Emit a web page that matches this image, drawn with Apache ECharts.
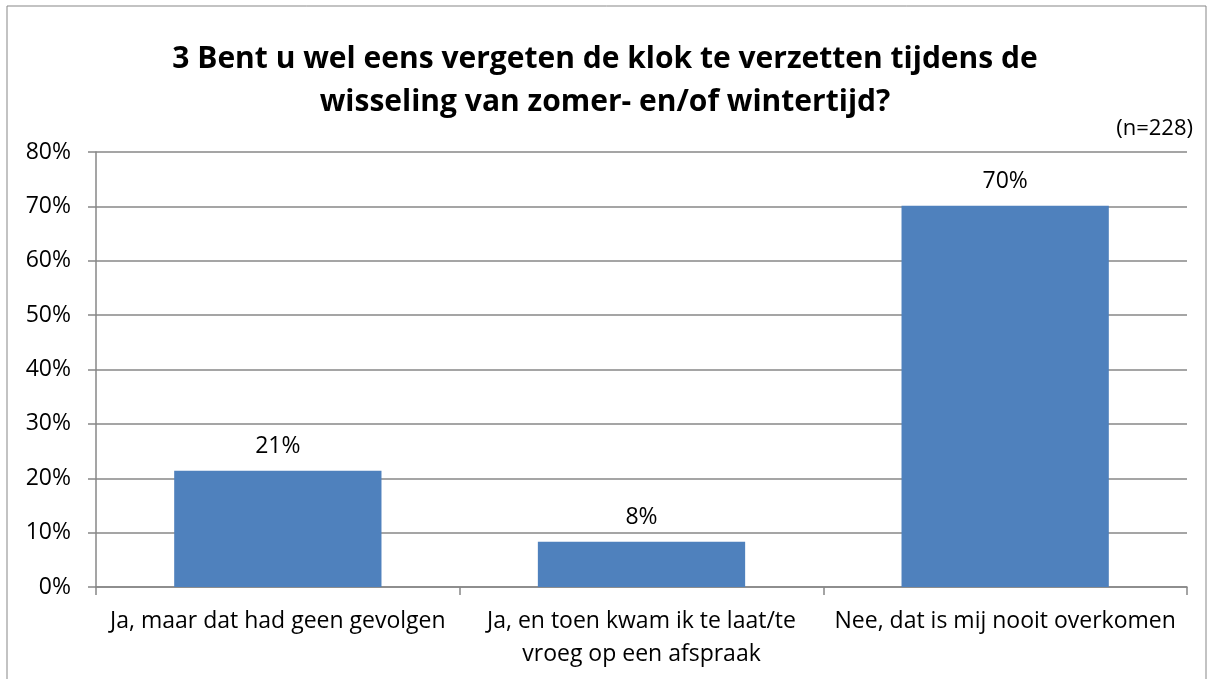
<!DOCTYPE html>
<html>
<head>
<meta charset="utf-8">
<script src="https://cdn.jsdelivr.net/npm/echarts@6/dist/echarts.min.js"></script>
<style>
html,body{margin:0;padding:0;background:#fff;}
#chart{width:1212px;height:679px;}
</style>
</head>
<body>
<div id="chart"></div>
<script>
const titleText = '3 Bent u wel eens vergeten de klok te verzetten tijdens de\nwisseling van zomer- en/of wintertijd?';
const sampleNote = '(n=228)';
const categories = ['Ja, maar dat had geen gevolgen', 'Ja, en toen kwam ik te laat/te\nvroeg op een afspraak', 'Nee, dat is mij nooit overkomen'];
const values = [21.4, 8.3, 70.1];
const yMin = 0, yMax = 80, yStep = 10;

const font = '"Open Sans", Lato, sans-serif';
const lineColor = '#878787';

let myChart = echarts.init(document.getElementById('chart'));
let option = {
    animation: false,
    textStyle: { fontFamily: font, color: '#000' },
    title: [
        {
            text: titleText,
            left: 600,
            top: 33,
            textAlign: 'center',
            textStyle: { fontFamily: font, fontWeight: 'bold', fontSize: 30, lineHeight: 43, color: '#000' }
        },
        {
            text: sampleNote,
            right: 14,
            top: 113,
            textStyle: { fontFamily: font, fontWeight: 'normal', fontSize: 22, color: '#000' }
        }
    ],
    graphic: [
        {
            type: 'rect',
            shape: { x: 7, y: 6, width: 1199, height: 720 },
            style: { fill: 'none', stroke: lineColor, lineWidth: 1 },
            silent: true
        }
    ],
    grid: { left: 96, right: 25, top: 152, bottom: 92 },
    xAxis: {
        type: 'category',
        data: categories,
        axisLine: { lineStyle: { color: lineColor, width: 1.5 } },
        axisTick: { show: true, length: 8, lineStyle: { color: lineColor, width: 1.5 } },
        axisLabel: { interval: 0, color: '#000', fontFamily: font, fontSize: 23, lineHeight: 33, margin: 18 }
    },
    yAxis: {
        type: 'value',
        min: yMin,
        max: yMax,
        interval: yStep,
        axisLine: { show: true, lineStyle: { color: lineColor, width: 1.5 } },
        axisTick: { show: true, length: 8, lineStyle: { color: lineColor, width: 1.5 } },
        splitLine: { lineStyle: { color: lineColor, width: 1.5 } },
        axisLabel: { color: '#000', fontFamily: font, fontSize: 23, margin: 25, formatter: '{value}%' }
    },
    series: [
        {
            type: 'bar',
            data: values,
            barWidth: '57%',
            itemStyle: { color: '#4F81BD' },
            label: {
                show: true,
                position: 'top',
                distance: 13,
                color: '#000',
                fontFamily: font,
                fontSize: 23,
                formatter: p => Math.round(p.value) + '%'
            }
        }
    ]
};
myChart.setOption(option);
window.onresize = function () {
    myChart.resize();
};
</script>
</body>
</html>
